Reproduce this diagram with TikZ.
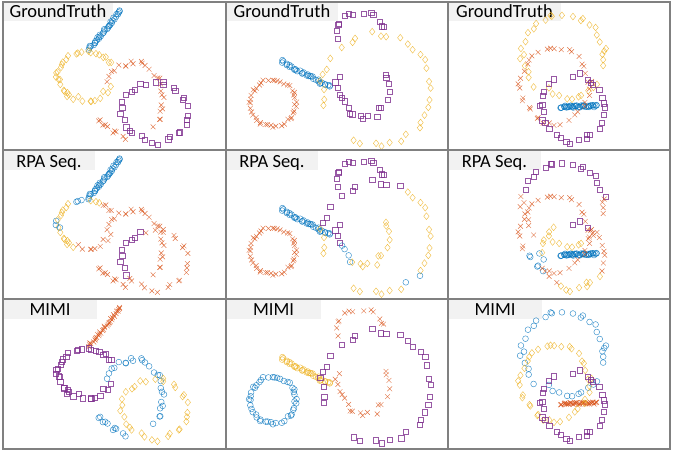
\documentclass[tikz,border=0pt]{standalone}
\usepackage{fontspec}
\newfontfamily\lblfont{Carlito}
\definecolor{cBl}{RGB}{0,114,189}
\definecolor{cRd}{RGB}{217,83,25}
\definecolor{cYl}{RGB}{237,177,32}
\definecolor{cPu}{RGB}{126,47,142}
\definecolor{gridc}{RGB}{128,128,128}
\definecolor{boxc}{RGB}{242,242,242}
\tikzset{
  mkbase/.style={line width=0.45pt, draw opacity=0.8},
  mblue/.style={mkbase, draw=cBl},
  mred/.style={mkbase, draw=cRd},
  myel/.style={mkbase, draw=cYl},
  mpur/.style={mkbase, draw=cPu},
  lblbox/.style={fill=boxc, draw=none},
  lbltext/.style={anchor=base, inner sep=0pt, text=black, font=\lblfont\fontsize{18.5}{20}\selectfont},
  gridline/.style={draw=gridc, line width=1.2pt},
}
% markers
\newcommand\mkC[2]{\draw[mblue] (#1,#2) circle (2.9);}
\newcommand\mkO[2]{\draw[myel] (#1,#2) circle (2.9);}
\newcommand\mkX[2]{\draw[mred] (#1-2.4,#2-2.4) -- (#1+2.4,#2+2.4) (#1-2.4,#2+2.4) -- (#1+2.4,#2-2.4);}
\newcommand\mkD[2]{\draw[myel] (#1,#2-3.4) -- (#1+2.7,#2) -- (#1,#2+3.4) -- (#1-2.7,#2) -- cycle;}
\newcommand\mkS[2]{\draw[mpur] (#1-2.6,#2-2.6) rectangle (#1+2.6,#2+2.6);}
% point pieces
\newcommand\PtArc[9]{%
  \foreach \ii in {1,...,#8}{%
    \pgfmathsetmacro\myt{#6+(#7-#6)*(\ii-0.5+0.35*rand)/#8}%
    \pgfmathsetmacro\mypx{#2+#4*cos(\myt)+#9*rand}%
    \pgfmathsetmacro\mypy{#3+#5*sin(\myt)+#9*rand}%
    #1{\mypx}{\mypy}%
  }}
\newcommand\PtSeg[7]{%
  \foreach \ii in {1,...,#6}{%
    \pgfmathsetmacro\myt{(\ii-0.5+0.4*rand)/#6}%
    \pgfmathsetmacro\mypx{#2+(#4-#2)*\myt+#7*rand}%
    \pgfmathsetmacro\mypy{#3+(#5-#3)*\myt+#7*rand}%
    #1{\mypx}{\mypy}%
  }}
\newcommand\ColOne{%
  \pgfmathsetseed{11}%
  \PtSeg\pA{88}{50}{121}{10}{34}{1.5}%
  \PtArc\pBa{86}{76}{28}{24}{110}{170}{8}{2.2}%
  \PtArc\pBb{86}{76}{28}{24}{170}{190}{3}{2.2}%
  \PtArc\pBc{86}{76}{28}{24}{190}{240}{6}{2.2}%
  \PtArc\pBd{86}{76}{28}{24}{240}{275}{4}{2.2}%
  \PtArc\pBe{86}{76}{28}{24}{275}{300}{3}{2.2}%
  \PtArc\pBf{86}{76}{28}{24}{300}{335}{4}{2.2}%
  \PtArc\pBg{86}{76}{28}{24}{25}{110}{9}{2.2}%
  \PtArc\pCa{133}{100}{30}{37}{-150}{-60}{12}{2.5}%
  \PtArc\pCb{133}{100}{30}{37}{-60}{50}{14}{2.5}%
  \PtSeg\pD{95}{117}{127}{141}{10}{2.5}%
  \PtArc\pEa{155}{112}{33}{30}{150}{250}{9}{2.5}%
  \PtArc\pEb{155}{112}{33}{30}{250}{510}{22}{2.5}%
}
\newcommand\ColTwo{%
  \pgfmathsetseed{22}%
  \PtSeg\pA{281}{61}{331}{88}{34}{1.5}%
  \PtArc\pB{273}{103}{23}{23}{0}{360}{44}{1.6}%
  \PtArc\pCa{377}{90}{55}{56}{160}{190}{4}{2.8}%
  \PtArc\pCb{377}{90}{55}{56}{190}{300}{10}{2.8}%
  \PtArc\pCc{377}{90}{55}{56}{300}{400}{11}{2.8}%
  \PtArc\pCd{377}{90}{55}{56}{400}{420}{2}{2.8}%
  \PtArc\pCe{377}{90}{55}{56}{420}{480}{6}{2.8}%
  \PtArc\pD{360}{35}{25}{22}{160}{355}{13}{3}%
  \PtArc\pEa{363}{85}{25}{33}{165}{200}{4}{3}%
  \PtArc\pEb{363}{85}{25}{33}{120}{165}{4}{3}%
  \PtArc\pEc{363}{85}{25}{33}{-30}{120}{12}{3}%
}
\newcommand\ColThree{%
  \pgfmathsetseed{33}%
  \PtSeg\pA{560}{107}{597}{106}{40}{1.1}%
  \PtArc\pBa{563}{55}{41}{40}{130}{195}{7}{2.5}%
  \PtArc\pBb{563}{55}{41}{40}{195}{355}{16}{2.5}%
  \PtArc\pBc{563}{55}{41}{40}{355}{380}{4}{2.5}%
  \PtArc\pCa{570}{70}{30}{28}{30}{60}{3}{2.5}%
  \PtArc\pCb{570}{70}{30}{28}{60}{140}{7}{2.5}%
  \PtArc\pDa{555}{86}{35}{38}{100}{150}{5}{2.5}%
  \PtArc\pDb{555}{86}{35}{38}{150}{460}{32}{2.5}%
  \PtArc\pEa{572}{108}{31}{33}{-90}{-60}{3}{2.5}%
  \PtArc\pEb{572}{108}{31}{33}{-60}{30}{8}{2.5}%
  \PtArc\pEc{572}{108}{31}{33}{30}{120}{8}{2.5}%
  \PtArc\pEd{572}{108}{31}{33}{120}{170}{4}{2.5}%
  \PtArc\pEe{572}{108}{31}{33}{170}{185}{2}{2.5}%
  \PtArc\pEf{572}{108}{31}{33}{185}{240}{5}{2.5}%
}
\begin{document}
\begin{tikzpicture}[x=1pt,y=-1pt]
\useasboundingbox (0,0) rectangle (675,452);
% label boxes
\fill[lblbox] (3,2) rectangle (113,21);
\fill[lblbox] (226,2) rectangle (338,21);
\fill[lblbox] (448,2) rectangle (561,21);
\fill[lblbox] (3,150) rectangle (95,170);
\fill[lblbox] (226,150) rectangle (318,170);
\fill[lblbox] (448,150) rectangle (541,170);
\fill[lblbox] (3,299) rectangle (97,319);
\fill[lblbox] (226,299) rectangle (321,319);
\fill[lblbox] (448,299) rectangle (542,319);
\node[lbltext] (t11) at (58,18) {GroundTruth};
\node[lbltext] (t12) at (282,18) {GroundTruth};
\node[lbltext] (t13) at (504.5,18) {GroundTruth};
\node[lbltext] (t21) at (49,167.5) {RPA Seq.};
\node[lbltext] (t22) at (272,167.5) {RPA Seq.};
\node[lbltext] (t23) at (494.5,167.5) {RPA Seq.};
\node[lbltext] (t31) at (50,315.7) {MIMI};
\node[lbltext] (t32) at (273.5,315.7) {MIMI};
\node[lbltext] (t33) at (495,315.7) {MIMI};
% ---- Column 1 ----
\begin{scope}
 \let\pA\mkC \let\pBa\mkD \let\pBb\mkD \let\pBc\mkD \let\pBd\mkD \let\pBe\mkD \let\pBf\mkD \let\pBg\mkD
 \let\pCa\mkX \let\pCb\mkX \let\pD\mkX \let\pEa\mkS \let\pEb\mkS
 \ColOne
\end{scope}
\begin{scope}[shift={(0,148)}]
 \let\pA\mkC \let\pBa\mkD \let\pBb\mkC \let\pBc\mkD \let\pBd\mkC \let\pBe\mkD \let\pBf\mkX \let\pBg\mkX
 \let\pCa\mkX \let\pCb\mkX \let\pD\mkX \let\pEa\mkS \let\pEb\mkX
 \ColOne
\end{scope}
\begin{scope}[shift={(0,297)}]
 \let\pA\mkX \let\pBa\mkS \let\pBb\mkS \let\pBc\mkS \let\pBd\mkS \let\pBe\mkS \let\pBf\mkS \let\pBg\mkS
 \let\pCa\mkC \let\pCb\mkC \let\pD\mkC \let\pEa\mkD \let\pEb\mkD
 \ColOne
\end{scope}
% ---- Column 2 ----
\begin{scope}
 \let\pA\mkC \let\pB\mkX \let\pCa\mkD \let\pCb\mkD \let\pCc\mkD \let\pCd\mkD \let\pCe\mkD
 \let\pD\mkS \let\pEa\mkS \let\pEb\mkS \let\pEc\mkS
 \ColTwo
\end{scope}
\begin{scope}[shift={(0,148)}]
 \let\pA\mkC \let\pB\mkX \let\pCa\mkD \let\pCb\mkS \let\pCc\mkD \let\pCd\mkC \let\pCe\mkD
 \let\pD\mkS \let\pEa\mkS \let\pEb\mkC \let\pEc\mkD
 \ColTwo
\end{scope}
\begin{scope}[shift={(0,297)}]
 \let\pA\mkO \let\pB\mkC \let\pCa\mkS \let\pCb\mkS \let\pCc\mkS \let\pCd\mkS \let\pCe\mkS
 \let\pD\mkX \let\pEa\mkX \let\pEb\mkX \let\pEc\mkX
 \ColTwo
\end{scope}
% ---- Column 3 ----
\begin{scope}
 \let\pA\mkC \let\pBa\mkD \let\pBb\mkD \let\pBc\mkD \let\pCa\mkD \let\pCb\mkD
 \let\pDa\mkX \let\pDb\mkX \let\pEa\mkS \let\pEb\mkS \let\pEc\mkS \let\pEd\mkS \let\pEe\mkS \let\pEf\mkS
 \ColThree
\end{scope}
\begin{scope}[shift={(0,148)}]
 \let\pA\mkC \let\pBa\mkX \let\pBb\mkS \let\pBc\mkX \let\pCa\mkX \let\pCb\mkD
 \let\pDa\mkC \let\pDb\mkX \let\pEa\mkS \let\pEb\mkX \let\pEc\mkD \let\pEd\mkX \let\pEe\mkC \let\pEf\mkD
 \ColThree
\end{scope}
\begin{scope}[shift={(0,297)}]
 \let\pA\mkX \let\pBa\mkC \let\pBb\mkC \let\pBc\mkC \let\pCa\mkC \let\pCb\mkC
 \let\pDa\mkD \let\pDb\mkD \let\pEa\mkS \let\pEb\mkS \let\pEc\mkS \let\pEd\mkS \let\pEe\mkS \let\pEf\mkS
 \ColThree
\end{scope}
% grid
\draw[gridline] (3,2) rectangle (670,449);
\draw[gridline] (226,2) -- (226,449) (448,2) -- (448,449) (3,150) -- (670,150) (3,299) -- (670,299);
\end{tikzpicture}
\end{document}
